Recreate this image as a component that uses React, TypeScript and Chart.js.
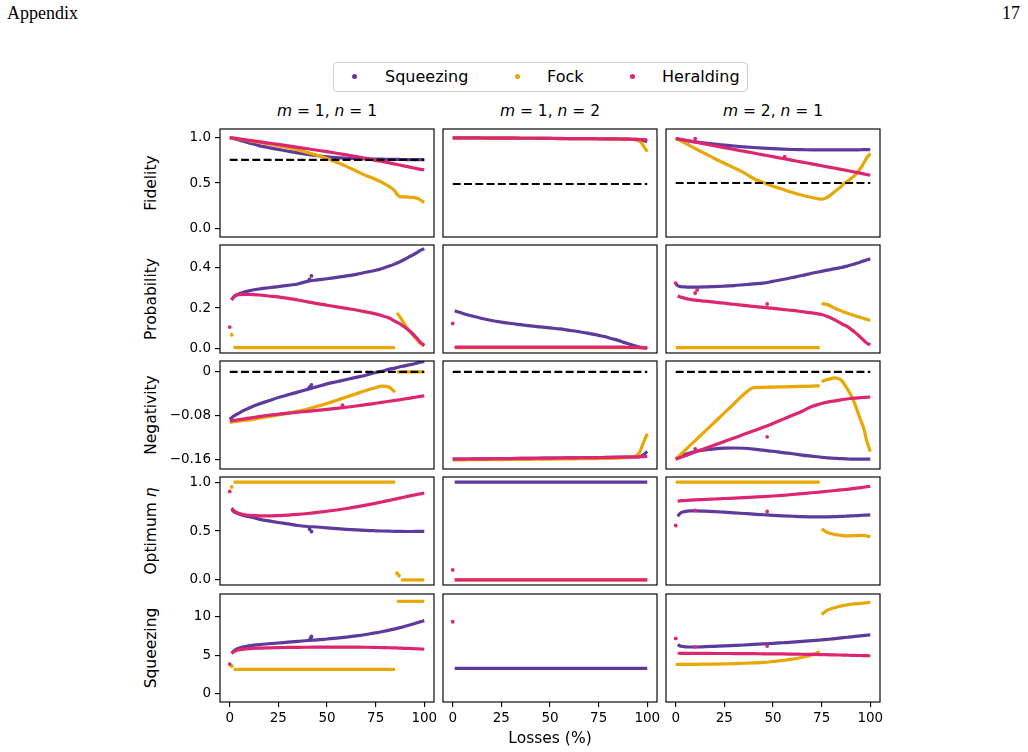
import React, { useEffect, useRef } from "react";
import { Chart, registerables } from "chart.js";
Chart.register(...registerables);

// ---------------- data ----------------
const LOSSES = [0, 1, 2, 3, 5, 7, 10, 15, 20, 25, 30, 35, 40, 45, 50, 55, 60, 65, 70, 74, 75, 78, 82, 85, 86, 88, 90, 92, 94, 96, 97, 98, 100];
const X_TICKS = [0, 25, 50, 75, 100];
const X_TICK_LABELS = ["0", "25", "50", "75", "100"];

const ROW_LABELS = ["Fidelity", "Probability", "Negativity", "Optimum", "Squeezing"];
const COL_TITLES = [["m", "1", "n", "1"], ["m", "1", "n", "2"], ["m", "2", "n", "1"]];
const SERIES_NAMES = ["Squeezing", "Fock", "Heralding"];

const Y_TICKS = [[0, 0.5, 1.0], [0, 0.2, 0.4], [-0.16, -0.08, 0], [0, 0.5, 1.0], [0, 5, 10]];
const Y_TICK_LABELS = [["0.0", "0.5", "1.0"], ["0.0", "0.2", "0.4"], ["\u22120.16", "\u22120.08", "0"], ["0.0", "0.5", "1.0"], ["0", "5", "10"]];
const Y_MIN = [-0.095, -0.024, -0.178, -0.052, -1.05];
const Y_MAX = [1.095, 0.514, 0.02, 1.052, 12.95];

const FID_LIMIT = [0.755, 0.489, 0.5];
const NEG_LIMIT = [0, 0, 0];

// Fidelity
const FID_11_SQ = [1.0, 0.995, 0.99, 0.983, 0.972, 0.96, 0.942, 0.912, 0.89, 0.87, 0.85, 0.832, 0.815, 0.8, 0.788, 0.779, 0.773, 0.768, 0.765, 0.763, 0.763, 0.762, 0.761, 0.76, 0.76, 0.759, 0.759, 0.758, 0.758, 0.757, 0.757, 0.757, 0.757];
const FID_11_FO = [1.0, 0.997, 0.993, 0.99, 0.983, 0.977, 0.965, 0.948, 0.93, 0.91, 0.89, 0.865, 0.835, 0.805, 0.77, 0.728, 0.683, 0.633, 0.582, 0.55, 0.54, 0.51, 0.46, 0.41, 0.375, 0.348, 0.347, 0.345, 0.341, 0.333, 0.325, 0.313, 0.287];
const FID_11_HE = [1.0, 0.997, 0.994, 0.991, 0.985, 0.979, 0.97, 0.955, 0.94, 0.925, 0.909, 0.893, 0.877, 0.861, 0.845, 0.828, 0.81, 0.791, 0.771, 0.755, 0.75, 0.738, 0.721, 0.708, 0.704, 0.695, 0.686, 0.677, 0.668, 0.659, 0.655, 0.65, 0.646];
const FID_12_SQ = [0.998, 0.998, 0.998, 0.997, 0.997, 0.997, 0.996, 0.996, 0.995, 0.994, 0.994, 0.993, 0.992, 0.992, 0.991, 0.99, 0.99, 0.989, 0.988, 0.988, 0.988, 0.987, 0.986, 0.986, 0.985, 0.984, 0.983, 0.982, 0.98, 0.976, 0.972, 0.967, 0.958];
const FID_12_FO = [0.998, 0.998, 0.998, 0.997, 0.997, 0.997, 0.996, 0.996, 0.995, 0.994, 0.994, 0.993, 0.992, 0.992, 0.991, 0.99, 0.99, 0.989, 0.988, 0.988, 0.988, 0.987, 0.986, 0.986, 0.985, 0.984, 0.983, 0.981, 0.977, 0.962, 0.94, 0.91, 0.845];
const FID_12_HE = [0.998, 0.998, 0.998, 0.998, 0.997, 0.997, 0.997, 0.996, 0.995, 0.995, 0.994, 0.993, 0.993, 0.992, 0.991, 0.991, 0.99, 0.989, 0.988, 0.988, 0.987, 0.987, 0.986, 0.985, 0.985, 0.984, 0.983, 0.982, 0.981, 0.979, 0.978, 0.977, 0.975];
const FID_13_SQ = [0.99, 0.986, 0.982, 0.978, 0.97, 0.963, 0.954, 0.94, 0.928, 0.918, 0.908, 0.899, 0.891, 0.884, 0.878, 0.873, 0.869, 0.867, 0.865, 0.865, 0.865, 0.865, 0.865, 0.865, 0.865, 0.866, 0.866, 0.866, 0.866, 0.867, 0.867, 0.867, 0.867];
const FID_13_FO = [0.99, 0.98, 0.97, 0.96, 0.937, 0.915, 0.88, 0.825, 0.77, 0.718, 0.667, 0.615, 0.55, 0.505, 0.465, 0.43, 0.395, 0.365, 0.34, 0.324, 0.322, 0.345, 0.41, 0.46, 0.485, 0.515, 0.548, 0.585, 0.635, 0.695, 0.735, 0.77, 0.825];
const FID_13_HE = [0.99, 0.986, 0.982, 0.978, 0.97, 0.962, 0.95, 0.93, 0.91, 0.89, 0.87, 0.85, 0.83, 0.81, 0.79, 0.77, 0.75, 0.73, 0.71, 0.694, 0.69, 0.678, 0.662, 0.65, 0.646, 0.638, 0.63, 0.621, 0.612, 0.603, 0.599, 0.594, 0.586];
const FID_13_HE_DOTS = [[10, 0.99], [56, 0.79]];

// Probability
const PRB_11_SQ = [0.24, 0.255, 0.263, 0.272, 0.279, 0.286, 0.295, 0.301, 0.307, 0.313, 0.32, 0.333, 0.34, 0.346, 0.353, 0.36, 0.368, 0.378, 0.386, 0.388, 0.396, 0.409, 0.42, 0.424, 0.433, 0.443, 0.454, 0.464, 0.475, 0.481, 0.487, 0.495];
const PRB_11_SQ_DOTS = [[41, 0.343], [42, 0.36]];
const PRB_11_FO_LO = [0.008, 0.003, 0.003, 0.003, 0.003, 0.003, 0.003, 0.003, 0.003, 0.003, 0.003, 0.003, 0.003, 0.003, 0.003, 0.003, 0.003, 0.003, 0.003, 0.003, 0.003, 0.003];
const PRB_11_FO_HI = [0.176, 0.148, 0.117, 0.09, 0.067, 0.045, 0.034, 0.024, 0.012];
const PRB_11_FO_DOTS = [[1, 0.067]];
const PRB_11_HE = [0.24, 0.255, 0.262, 0.267, 0.268, 0.268, 0.265, 0.26, 0.256, 0.248, 0.24, 0.231, 0.222, 0.214, 0.206, 0.198, 0.19, 0.181, 0.173, 0.171, 0.163, 0.15, 0.134, 0.129, 0.118, 0.104, 0.089, 0.072, 0.052, 0.041, 0.029, 0.014];
const PRB_11_HE_DOTS = [[0, 0.105]];
const PRB_12_SQ = [0.186, 0.183, 0.18, 0.174, 0.168, 0.16, 0.148, 0.138, 0.13, 0.123, 0.117, 0.111, 0.106, 0.101, 0.096, 0.089, 0.082, 0.074, 0.066, 0.064, 0.058, 0.047, 0.039, 0.036, 0.029, 0.023, 0.017, 0.011, 0.006, 0.004, 0.002, 0.0];
const PRB_12_FO = [0.003, 0.003, 0.003, 0.003, 0.003, 0.003, 0.003, 0.003, 0.003, 0.003, 0.003, 0.003, 0.003, 0.003, 0.003, 0.003, 0.003, 0.003, 0.003, 0.003, 0.003, 0.003, 0.003, 0.003, 0.003, 0.003, 0.003, 0.003, 0.003, 0.002, 0.002, 0.001];
const PRB_12_HE = [0.005, 0.005, 0.005, 0.005, 0.005, 0.005, 0.005, 0.005, 0.005, 0.005, 0.005, 0.005, 0.005, 0.005, 0.005, 0.005, 0.005, 0.005, 0.005, 0.005, 0.005, 0.005, 0.005, 0.005, 0.005, 0.004, 0.004, 0.004, 0.003, 0.003, 0.002, 0.002];
const PRB_12_HE_DOTS = [[0, 0.123]];
const PRB_13_SQ = [0.318, 0.312, 0.308, 0.306, 0.305, 0.304, 0.304, 0.305, 0.307, 0.309, 0.312, 0.316, 0.32, 0.324, 0.333, 0.342, 0.352, 0.362, 0.373, 0.381, 0.383, 0.389, 0.396, 0.402, 0.404, 0.409, 0.414, 0.42, 0.426, 0.433, 0.436, 0.439, 0.445];
const PRB_13_FO_LO = [0.003, 0.003, 0.003, 0.003, 0.003, 0.003, 0.003, 0.003, 0.003, 0.003, 0.003, 0.003, 0.003, 0.003, 0.003, 0.003, 0.003, 0.003, 0.003, 0.003];
const PRB_13_FO_HI = [0.222, 0.217, 0.198, 0.186, 0.182, 0.175, 0.168, 0.162, 0.156, 0.15, 0.147, 0.144, 0.139];
const PRB_13_HE = [0.26, 0.256, 0.253, 0.248, 0.244, 0.239, 0.234, 0.229, 0.224, 0.219, 0.213, 0.208, 0.203, 0.198, 0.193, 0.188, 0.182, 0.176, 0.17, 0.168, 0.158, 0.14, 0.124, 0.118, 0.109, 0.095, 0.08, 0.063, 0.045, 0.036, 0.027, 0.016];
const PRB_13_HE_DOTS = [[0, 0.324], [10, 0.275], [11, 0.29], [47, 0.22]];

// Negativity
const NEG_11_SQ = [-0.087, -0.084, -0.081, -0.079, -0.075, -0.071, -0.066, -0.059, -0.053, -0.047, -0.042, -0.037, -0.032, -0.027, -0.022, -0.018, -0.014, -0.01, -0.006, -0.002, -0.001, 0.001, 0.005, 0.007, 0.008, 0.01, 0.011, 0.013, 0.014, 0.016, 0.017, 0.018, 0.019];
const NEG_11_SQ_DOTS = [[41, -0.028], [42, -0.024]];
const NEG_11_FO_LO = [-0.092, -0.092, -0.091, -0.091, -0.09, -0.089, -0.088, -0.085, -0.082, -0.079, -0.076, -0.072, -0.068, -0.063, -0.058, -0.052, -0.046, -0.04, -0.034, -0.03, -0.029, -0.026, -0.028, -0.037];
const NEG_11_FO_HI = [0, 0, 0, 0, 0, 0, 0, 0, 0];
const NEG_11_HE = [-0.09, -0.0895, -0.089, -0.0885, -0.0875, -0.0864, -0.0848, -0.082, -0.0795, -0.0775, -0.0757, -0.074, -0.0722, -0.0705, -0.0687, -0.0668, -0.0648, -0.0625, -0.06, -0.058, -0.0575, -0.056, -0.0538, -0.0522, -0.0517, -0.0506, -0.0495, -0.0484, -0.0472, -0.046, -0.0455, -0.0449, -0.0437];
const NEG_11_HE_DOTS = [[58, -0.061]];
const NEG_12_SQ = [-0.16, -0.16, -0.16, -0.16, -0.1599, -0.1598, -0.1597, -0.1595, -0.1593, -0.1591, -0.1589, -0.1587, -0.1585, -0.1583, -0.1581, -0.1579, -0.1577, -0.1575, -0.1573, -0.1571, -0.157, -0.1569, -0.1567, -0.1565, -0.1565, -0.1564, -0.1562, -0.156, -0.1558, -0.1555, -0.1545, -0.152, -0.146];
const NEG_12_FO = [-0.1612, -0.1612, -0.1612, -0.1612, -0.1611, -0.1611, -0.161, -0.1609, -0.1608, -0.1607, -0.1605, -0.1604, -0.1602, -0.16, -0.1598, -0.1596, -0.1594, -0.1592, -0.159, -0.1588, -0.1587, -0.1585, -0.1582, -0.158, -0.1578, -0.1573, -0.1567, -0.1558, -0.1545, -0.148, -0.139, -0.13, -0.113];
const NEG_12_HE = [-0.16, -0.16, -0.16, -0.1599, -0.1598, -0.1597, -0.1596, -0.1594, -0.1592, -0.159, -0.1588, -0.1586, -0.1584, -0.1582, -0.158, -0.1578, -0.1576, -0.1574, -0.1572, -0.157, -0.157, -0.1568, -0.1566, -0.1564, -0.1563, -0.1562, -0.1561, -0.156, -0.1558, -0.1556, -0.1555, -0.1553, -0.155];
const NEG_13_SQ = [-0.16, -0.157, -0.155, -0.153, -0.151, -0.149, -0.146, -0.143, -0.141, -0.1398, -0.1395, -0.14, -0.1415, -0.1435, -0.1455, -0.148, -0.15, -0.1525, -0.1545, -0.156, -0.1565, -0.1575, -0.1585, -0.159, -0.159, -0.1595, -0.16, -0.16, -0.16, -0.16, -0.16, -0.16, -0.16];
const NEG_13_FO_LO = [-0.16, -0.1566, -0.1532, -0.1498, -0.143, -0.1362, -0.126, -0.109, -0.092, -0.075, -0.058, -0.041, -0.0288, -0.0283, -0.0278, -0.0274, -0.027, -0.0265, -0.026, -0.0255];
const NEG_13_FO_HI = [-0.0175, -0.014, -0.011, -0.015, -0.019, -0.03, -0.042, -0.058, -0.078, -0.097, -0.108, -0.124, -0.146];
const NEG_13_HE = [-0.16, -0.1587, -0.1574, -0.1561, -0.1535, -0.1509, -0.147, -0.1405, -0.134, -0.1275, -0.121, -0.1145, -0.108, -0.1015, -0.0945, -0.087, -0.0795, -0.072, -0.0635, -0.059, -0.058, -0.0555, -0.053, -0.0512, -0.0506, -0.0496, -0.0488, -0.0481, -0.0475, -0.047, -0.0467, -0.0465, -0.046];
const NEG_13_HE_DOTS = [[10, -0.141], [47, -0.119]];

// Optimum eta
const OPT_11_SQ = [0.72, 0.7, 0.688, 0.672, 0.66, 0.645, 0.622, 0.603, 0.587, 0.573, 0.556, 0.546, 0.541, 0.532, 0.524, 0.517, 0.511, 0.506, 0.503, 0.502, 0.5, 0.498, 0.497, 0.496, 0.496, 0.495, 0.495, 0.495, 0.496, 0.496, 0.497, 0.497];
const OPT_11_SQ_DOTS = [[41, 0.52], [42, 0.495]];
const OPT_11_FO_TOP = [1, 1, 1, 1, 1, 1, 1, 1, 1, 1, 1, 1, 1, 1, 1, 1, 1, 1, 1, 1, 1, 1];
const OPT_11_FO_BOT = [0, 0, 0, 0, 0, 0, 0, 0];
const OPT_11_FO_DOTS = [[1, 0.95], [86, 0.068], [87, 0.045]];
const OPT_11_HE = [0.735, 0.71, 0.695, 0.678, 0.668, 0.66, 0.655, 0.655, 0.658, 0.663, 0.67, 0.679, 0.69, 0.702, 0.715, 0.73, 0.747, 0.765, 0.78, 0.784, 0.797, 0.813, 0.826, 0.83, 0.839, 0.848, 0.856, 0.864, 0.872, 0.876, 0.88, 0.888];
const OPT_11_HE_DOTS = [[0, 0.905]];
const OPT_12_SQ = [1, 1, 1, 1, 1, 1, 1, 1, 1, 1, 1, 1, 1, 1, 1, 1, 1, 1, 1, 1, 1, 1, 1, 1, 1, 1, 1, 1, 1, 1, 1, 1];
const OPT_12_FO = [0, 0, 0, 0, 0, 0, 0, 0, 0, 0, 0, 0, 0, 0, 0, 0, 0, 0, 0, 0, 0, 0, 0, 0, 0, 0, 0, 0, 0, 0, 0, 0];
const OPT_12_HE = [0, 0, 0, 0, 0, 0, 0, 0, 0, 0, 0, 0, 0, 0, 0, 0, 0, 0, 0, 0, 0, 0, 0, 0, 0, 0, 0, 0, 0, 0, 0, 0];
const OPT_12_HE_DOTS = [[0, 0.102]];
const OPT_13_SQ = [0.65, 0.675, 0.69, 0.7, 0.705, 0.706, 0.703, 0.698, 0.692, 0.686, 0.679, 0.672, 0.666, 0.66, 0.655, 0.651, 0.647, 0.645, 0.644, 0.644, 0.645, 0.647, 0.649, 0.65, 0.652, 0.654, 0.656, 0.658, 0.661, 0.662, 0.663, 0.665];
const OPT_13_FO_TOP = [1, 1, 1, 1, 1, 1, 1, 1, 1, 1, 1, 1, 1, 1, 1, 1, 1, 1, 1, 1];
const OPT_13_FO_HI = [0.522, 0.485, 0.463, 0.455, 0.453, 0.451, 0.451, 0.452, 0.455, 0.456, 0.454, 0.45, 0.443];
const OPT_13_HE = [0.805, 0.808, 0.81, 0.812, 0.815, 0.818, 0.822, 0.827, 0.832, 0.837, 0.842, 0.847, 0.852, 0.858, 0.865, 0.873, 0.882, 0.891, 0.898, 0.9, 0.906, 0.914, 0.92, 0.922, 0.926, 0.931, 0.935, 0.94, 0.946, 0.949, 0.952, 0.957];
const OPT_13_HE_DOTS = [[0, 0.556], [10, 0.71], [47, 0.7]];

// Squeezing
const SQZ_11_SQ = [5.25, 5.55, 5.75, 5.95, 6.1, 6.22, 6.38, 6.5, 6.6, 6.7, 6.8, 6.92, 7.0, 7.12, 7.24, 7.37, 7.52, 7.7, 7.88, 7.92, 8.06, 8.26, 8.43, 8.49, 8.62, 8.76, 8.9, 9.05, 9.2, 9.28, 9.36, 9.5];
const SQZ_11_SQ_DOTS = [[41.5, 7.2], [42, 7.45]];
const SQZ_11_FO_LO = [3.17, 3.17, 3.17, 3.17, 3.17, 3.17, 3.17, 3.17, 3.17, 3.17, 3.17, 3.17, 3.17, 3.17, 3.17, 3.17, 3.17, 3.17, 3.17, 3.17, 3.17, 3.17];
const SQZ_11_FO_HI = [12, 12, 12, 12, 12, 12, 12, 12, 12];
const SQZ_11_FO_DOTS = [[1, 3.6]];
const SQZ_11_HE = [5.25, 5.45, 5.58, 5.72, 5.8, 5.87, 5.93, 5.97, 6.0, 6.02, 6.04, 6.05, 6.06, 6.07, 6.07, 6.07, 6.06, 6.05, 6.04, 6.03, 6.01, 5.98, 5.96, 5.95, 5.93, 5.91, 5.89, 5.87, 5.85, 5.84, 5.82, 5.79];
const SQZ_11_HE_DOTS = [[0, 3.86]];
const SQZ_12_SQ = [3.3, 3.3, 3.3, 3.3, 3.3, 3.3, 3.3, 3.3, 3.3, 3.3, 3.3, 3.3, 3.3, 3.3, 3.3, 3.3, 3.3, 3.3, 3.3, 3.3, 3.3, 3.3, 3.3, 3.3, 3.3, 3.3, 3.3, 3.3, 3.3, 3.3, 3.3, 3.3];
const SQZ_12_HE_DOTS = [[0, 9.35]];
const SQZ_13_SQ = [6.4, 6.25, 6.17, 6.1, 6.08, 6.08, 6.12, 6.17, 6.22, 6.28, 6.34, 6.41, 6.48, 6.55, 6.63, 6.71, 6.8, 6.9, 6.98, 7.0, 7.07, 7.17, 7.26, 7.29, 7.34, 7.4, 7.45, 7.5, 7.55, 7.58, 7.6, 7.64];
const SQZ_13_FO_LO = [3.82, 3.82, 3.82, 3.82, 3.83, 3.83, 3.84, 3.85, 3.86, 3.88, 3.93, 3.97, 4.02, 4.08, 4.2, 4.33, 4.5, 4.75, 5.05, 5.45];
const SQZ_13_FO_HI = [10.3, 10.85, 11.2, 11.4, 11.45, 11.55, 11.62, 11.67, 11.71, 11.75, 11.78, 11.82, 11.87];
const SQZ_13_HE = [5.27, 5.27, 5.26, 5.26, 5.26, 5.25, 5.25, 5.24, 5.24, 5.23, 5.22, 5.21, 5.2, 5.19, 5.18, 5.16, 5.14, 5.12, 5.1, 5.1, 5.08, 5.05, 5.04, 5.03, 5.02, 5.0, 4.99, 4.98, 4.97, 4.96, 4.95, 4.94];
const SQZ_13_HE_DOTS = [[0, 7.19], [10, 6.1], [47, 6.2]];

// ---------------- styling / layout ----------------
const FONT = '"DejaVu Sans", sans-serif';
const PURPLE = "#5d3a9b";
const GOLD = "#e8a703";
const PINK = "#dc2672";
const COLORS = [PURPLE, GOLD, PINK];
const ORDER: Record<string, number> = { [PURPLE]: 3, [GOLD]: 2, [PINK]: 1 };

const COL_LEFT = [220, 443, 666];
const ROW_TOP = [129, 245, 361, 477, 594];
const PANEL_W = 214;
const PANEL_H = 108;
const X_MIN = -5;
const X_MAX = 105;

type Line = { ys: number[]; from: number; color: string };
type Dots = { pts: number[][]; color: string };
type PanelDef = { row: number; col: number; lines: Line[]; dots: Dots[]; limit?: number };

const ln = (ys: number[], from: number, color: string): Line => ({ ys, from, color });
const dt = (pts: number[][], color: string): Dots => ({ pts, color });

const PANELS: PanelDef[] = [
  { row: 0, col: 0, limit: FID_LIMIT[0], lines: [ln(FID_11_SQ, 0, PURPLE), ln(FID_11_FO, 0, GOLD), ln(FID_11_HE, 0, PINK)], dots: [] },
  { row: 0, col: 1, limit: FID_LIMIT[1], lines: [ln(FID_12_SQ, 0, PURPLE), ln(FID_12_FO, 0, GOLD), ln(FID_12_HE, 0, PINK)], dots: [] },
  { row: 0, col: 2, limit: FID_LIMIT[2], lines: [ln(FID_13_SQ, 0, PURPLE), ln(FID_13_FO, 0, GOLD), ln(FID_13_HE, 0, PINK)], dots: [dt(FID_13_HE_DOTS, PINK)] },
  { row: 1, col: 0, lines: [ln(PRB_11_SQ, 1, PURPLE), ln(PRB_11_FO_LO, 2, GOLD), ln(PRB_11_FO_HI, 86, GOLD), ln(PRB_11_HE, 1, PINK)], dots: [dt(PRB_11_SQ_DOTS, PURPLE), dt(PRB_11_FO_DOTS, GOLD), dt(PRB_11_HE_DOTS, PINK)] },
  { row: 1, col: 1, lines: [ln(PRB_12_SQ, 1, PURPLE), ln(PRB_12_FO, 1, GOLD), ln(PRB_12_HE, 1, PINK)], dots: [dt(PRB_12_HE_DOTS, PINK)] },
  { row: 1, col: 2, lines: [ln(PRB_13_SQ, 0, PURPLE), ln(PRB_13_FO_LO, 0, GOLD), ln(PRB_13_FO_HI, 75, GOLD), ln(PRB_13_HE, 1, PINK)], dots: [dt(PRB_13_HE_DOTS, PINK)] },
  { row: 2, col: 0, limit: NEG_LIMIT[0], lines: [ln(NEG_11_SQ, 0, PURPLE), ln(NEG_11_FO_LO, 0, GOLD), ln(NEG_11_FO_HI, 86, GOLD), ln(NEG_11_HE, 0, PINK)], dots: [dt(NEG_11_SQ_DOTS, PURPLE), dt(NEG_11_HE_DOTS, PINK)] },
  { row: 2, col: 1, limit: NEG_LIMIT[1], lines: [ln(NEG_12_SQ, 0, PURPLE), ln(NEG_12_FO, 0, GOLD), ln(NEG_12_HE, 0, PINK)], dots: [] },
  { row: 2, col: 2, limit: NEG_LIMIT[2], lines: [ln(NEG_13_SQ, 0, PURPLE), ln(NEG_13_FO_LO, 0, GOLD), ln(NEG_13_FO_HI, 75, GOLD), ln(NEG_13_HE, 0, PINK)], dots: [dt(NEG_13_HE_DOTS, PINK)] },
  { row: 3, col: 0, lines: [ln(OPT_11_SQ, 1, PURPLE), ln(OPT_11_FO_TOP, 2, GOLD), ln(OPT_11_FO_BOT, 88, GOLD), ln(OPT_11_HE, 1, PINK)], dots: [dt(OPT_11_SQ_DOTS, PURPLE), dt(OPT_11_FO_DOTS, GOLD), dt(OPT_11_HE_DOTS, PINK)] },
  { row: 3, col: 1, lines: [ln(OPT_12_SQ, 1, PURPLE), ln(OPT_12_FO, 1, GOLD), ln(OPT_12_HE, 1, PINK)], dots: [dt(OPT_12_HE_DOTS, PINK)] },
  { row: 3, col: 2, lines: [ln(OPT_13_SQ, 1, PURPLE), ln(OPT_13_FO_TOP, 0, GOLD), ln(OPT_13_FO_HI, 75, GOLD), ln(OPT_13_HE, 1, PINK)], dots: [dt(OPT_13_HE_DOTS, PINK)] },
  { row: 4, col: 0, lines: [ln(SQZ_11_SQ, 1, PURPLE), ln(SQZ_11_FO_LO, 2, GOLD), ln(SQZ_11_FO_HI, 86, GOLD), ln(SQZ_11_HE, 1, PINK)], dots: [dt(SQZ_11_SQ_DOTS, PURPLE), dt(SQZ_11_FO_DOTS, GOLD), dt(SQZ_11_HE_DOTS, PINK)] },
  { row: 4, col: 1, lines: [ln(SQZ_12_SQ, 1, PURPLE)], dots: [dt(SQZ_12_HE_DOTS, PINK)] },
  { row: 4, col: 2, lines: [ln(SQZ_13_SQ, 1, PURPLE), ln(SQZ_13_FO_LO, 0, GOLD), ln(SQZ_13_FO_HI, 75, GOLD), ln(SQZ_13_HE, 1, PINK)], dots: [dt(SQZ_13_HE_DOTS, PINK)] },
];

const L = 70;
const R = 24;
const T = 16;
const B = 16;
const XAX = 30;
const TICK_FONT = { family: "DejaVu Sans", size: 13.5 };

// pins the plotting area to an exact rectangle inside the canvas
const pinAreaPlugin = {
  id: "pinArea",
  afterLayout(chart: any) {
    const a = chart.chartArea;
    a.left = L;
    a.top = T;
    a.right = L + PANEL_W;
    a.bottom = T + PANEL_H;
    a.width = PANEL_W;
    a.height = PANEL_H;
    const xs = chart.scales.x;
    xs.left = L;
    xs.right = L + PANEL_W;
    xs.width = PANEL_W;
    xs.top = T + PANEL_H;
    xs.bottom = xs.top + (xs.height || 0);
    xs.configure();
    const ys = chart.scales.y;
    ys.top = T;
    ys.bottom = T + PANEL_H;
    ys.height = PANEL_H;
    ys.right = L;
    ys.left = L - (ys.width || 0);
    ys.configure();
  },
};

const framePlugin = {
  id: "frame",
  afterDatasetsDraw(chart: any) {
    const { ctx, chartArea: a } = chart;
    ctx.save();
    ctx.strokeStyle = "#000";
    ctx.lineWidth = 1.15;
    ctx.strokeRect(a.left, a.top, a.right - a.left, a.bottom - a.top);
    ctx.restore();
  },
};

function Panel({ p }: { p: PanelDef }) {
  const ref = useRef<HTMLCanvasElement>(null);
  const showY = p.col === 0;
  const showX = p.row === 4;
  const w = PANEL_W + L + R;
  const h = PANEL_H + T + (showX ? XAX : B);

  useEffect(() => {
    const datasets: any[] = [];
    for (const s of p.lines) {
      const i0 = LOSSES.indexOf(s.from);
      datasets.push({
        data: s.ys.map((y, k) => ({ x: LOSSES[i0 + k], y })),
        borderColor: s.color,
        backgroundColor: s.color,
        borderWidth: 3.2,
        pointRadius: 0,
        cubicInterpolationMode: "monotone",
        order: ORDER[s.color],
        fill: false,
      });
    }
    for (const d of p.dots) {
      datasets.push({
        data: d.pts.map(([x, y]) => ({ x, y })),
        showLine: false,
        pointRadius: 1.9,
        pointBorderWidth: 0,
        pointBackgroundColor: d.color,
        borderColor: d.color,
        order: ORDER[d.color],
      });
    }
    if (p.limit !== undefined) {
      datasets.push({
        data: [
          { x: LOSSES[0], y: p.limit },
          { x: LOSSES[LOSSES.length - 1], y: p.limit },
        ],
        borderColor: "#000",
        borderWidth: 2.1,
        borderDash: [7.9, 3.4],
        pointRadius: 0,
        order: 0,
      });
    }
    const chart = new Chart(ref.current as HTMLCanvasElement, {
      type: "line",
      data: { datasets },
      options: {
        responsive: false,
        animation: false,
        devicePixelRatio: 1,
        layout: {
          autoPadding: false,
          padding: { left: showY ? 0 : L, right: R, top: T, bottom: showX ? 0 : B },
        },
        plugins: { legend: { display: false }, tooltip: { enabled: false } },
        scales: {
          x: {
            type: "linear",
            min: X_MIN,
            max: X_MAX,
            display: showX,
            afterFit: (s: any) => {
              if (showX) s.height = XAX;
            },
            afterBuildTicks: (s: any) => {
              s.ticks = X_TICKS.map((v) => ({ value: v }));
            },
            border: { display: false },
            grid: { drawOnChartArea: false, drawTicks: true, tickLength: 5, color: "#000", lineWidth: 1.15 },
            ticks: {
              autoSkip: false,
              maxRotation: 0,
              padding: 3,
              color: "#000",
              font: TICK_FONT,
              callback: (_v: any, i: number) => X_TICK_LABELS[i],
            },
          },
          y: {
            type: "linear",
            min: Y_MIN[p.row],
            max: Y_MAX[p.row],
            display: showY,
            afterFit: (s: any) => {
              if (showY) s.width = L;
            },
            afterBuildTicks: (s: any) => {
              s.ticks = Y_TICKS[p.row].map((v) => ({ value: v }));
            },
            border: { display: false },
            grid: { drawOnChartArea: false, drawTicks: true, tickLength: 5, color: "#000", lineWidth: 1.15 },
            ticks: {
              padding: 4,
              color: "#000",
              font: TICK_FONT,
              callback: (_v: any, i: number) => Y_TICK_LABELS[p.row][i],
            },
          },
        },
      } as any,
      plugins: [pinAreaPlugin, framePlugin],
    });
    return () => chart.destroy();
  }, []);

  return (
    <canvas
      ref={ref}
      width={w}
      height={h}
      style={{ position: "absolute", left: COL_LEFT[p.col] - L, top: ROW_TOP[p.row] - T, width: w, height: h }}
    />
  );
}

const LABEL_SIZE = 15.5;

export default function App() {
  const textBase: React.CSSProperties = {
    position: "absolute",
    fontFamily: FONT,
    fontSize: LABEL_SIZE,
    lineHeight: 1,
    whiteSpace: "nowrap",
    color: "#000",
  };
  const legendX = [354, 517, 632];
  const legendTextX = [385, 547, 662];
  return (
    <div style={{ position: "absolute", left: 0, top: 0, width: 1028, height: 752, background: "#fff", overflow: "hidden" }}>
      <div style={{ position: "absolute", left: 7, top: 4, fontFamily: '"Liberation Serif", serif', fontSize: 18, lineHeight: "18px" }}>Appendix</div>
      <div style={{ position: "absolute", right: 8, top: 4, fontFamily: '"Liberation Serif", serif', fontSize: 18, lineHeight: "18px" }}>17</div>

      {/* legend */}
      <div style={{ position: "absolute", left: 333, top: 62, width: 413, height: 28, border: "1px solid #cfcfcf", borderRadius: 4, background: "#fff" }} />
      {SERIES_NAMES.map((name, i) => (
        <React.Fragment key={name}>
          <div style={{ position: "absolute", left: legendX[i] - 2.5, top: 73.5, width: 5, height: 5, borderRadius: "50%", background: COLORS[i] }} />
          <div style={{ ...textBase, left: legendTextX[i], top: 68.5, fontSize: 16 }}>{name}</div>
        </React.Fragment>
      ))}

      {/* column titles */}
      {COL_TITLES.map((t, c) => (
        <div key={c} style={{ ...textBase, left: COL_LEFT[c] + PANEL_W / 2, top: 104, transform: "translateX(-50%)" }}>
          <i>{t[0]}</i> = {t[1]}, <i>{t[2]}</i> = {t[3]}
        </div>
      ))}

      {/* row labels */}
      {ROW_LABELS.map((lab, r) => (
        <div
          key={lab}
          style={{ ...textBase, left: 152, top: ROW_TOP[r] + PANEL_H / 2, transform: "translate(-50%, -50%) rotate(-90deg)" }}
        >
          {lab}
          {r === 3 ? (
            <>
              {" "}
              <i>η</i>
            </>
          ) : null}
        </div>
      ))}

      {PANELS.map((p) => (
        <Panel key={`${p.row}-${p.col}`} p={p} />
      ))}

      <div style={{ ...textBase, left: COL_LEFT[1] + PANEL_W / 2, top: 731, transform: "translateX(-50%)" }}>Losses (%)</div>
    </div>
  );
}
